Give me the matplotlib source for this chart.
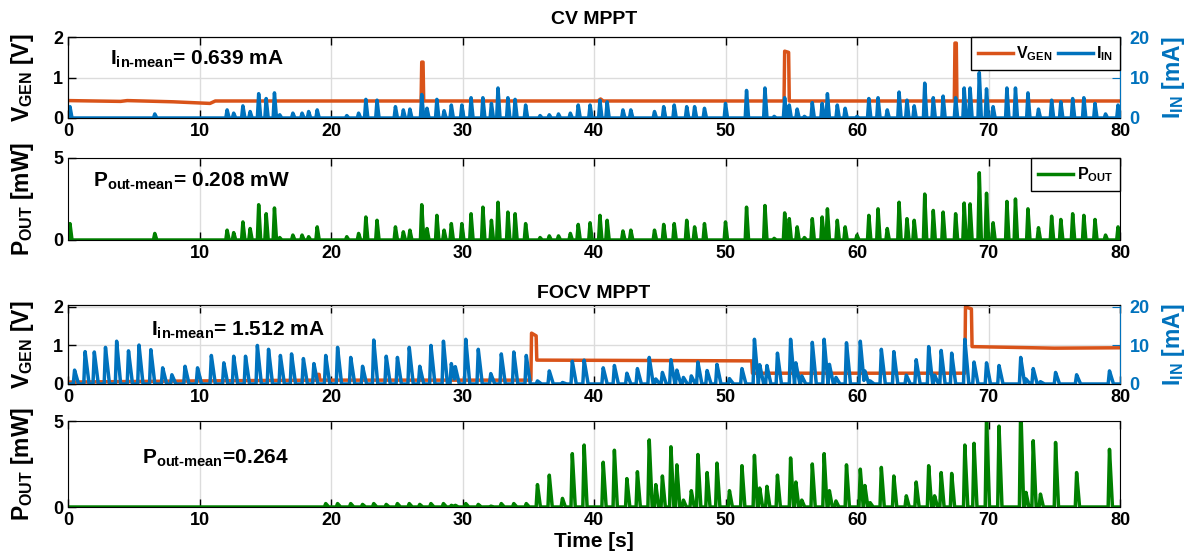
import numpy as np
import matplotlib
matplotlib.use('Agg')
import matplotlib.pyplot as plt
from matplotlib.lines import Line2D

plt.rcParams['font.family'] = ['Liberation Sans', 'DejaVu Sans']
plt.rcParams['font.weight'] = 'bold'
plt.rcParams['axes.labelweight'] = 'bold'
plt.rcParams['axes.titleweight'] = 'bold'
plt.rcParams['mathtext.fontset'] = 'custom'
plt.rcParams['mathtext.rm'] = 'Liberation Sans:bold'
plt.rcParams['mathtext.bf'] = 'Liberation Sans:bold'
plt.rcParams['mathtext.it'] = 'Liberation Sans:bold'
plt.rcParams['mathtext.default'] = 'rm'

ORANGE = '#D95319'
BLUE = '#0072BD'
GREEN = '#008000'

# ---- CV MPPT ----
# spike times [s], input current peaks [mA], output power peaks [mW]
cv_t = [0.15, 6.6, 12.1, 12.6, 13.3, 13.85, 14.5, 15.07, 15.7, 16.1, 17.1, 17.8, 18.3, 18.95,
        21.2, 22.1, 22.65, 23.5, 24.9, 25.5, 26.0, 26.9, 27.3, 28.05, 28.6, 29.15, 29.95,
        30.65, 31.55, 32.2, 32.7, 33.45, 34.0, 34.8, 35.9, 36.6, 37.3, 38.2, 38.8, 39.7,
        40.45, 41.0, 42.2, 42.8, 44.6, 45.3, 46.1, 47.05, 47.65, 48.4, 50.0, 51.6, 53.0,
        53.7, 54.5, 54.85, 55.45, 56.0, 56.6, 57.35, 57.75, 58.5, 59.1, 60.0, 60.9, 61.6,
        62.3, 63.2, 63.8, 64.35, 65.15, 65.8, 66.55, 67.5, 68.15, 68.6, 69.3, 69.85, 70.35,
        71.4, 72.05, 73.0, 73.8, 74.8, 75.5, 76.4, 77.25, 78.1, 78.9, 79.85]
cv_iin = [2.8, 1.0, 2.0, 1.2, 3.0, 1.6, 6.0, 4.8, 6.2, 0.8, 1.2, 1.2, 1.6, 2.0,
          0.6, 1.2, 4.6, 4.4, 2.8, 2.0, 2.2, 5.8, 2.4, 4.6, 1.8, 3.2, 3.2,
          5.0, 5.0, 3.6, 7.4, 5.0, 4.6, 3.2, 0.6, 0.8, 1.0, 1.2, 3.2, 3.2,
          4.4, 4.0, 2.0, 2.0, 1.6, 2.8, 3.2, 2.8, 2.8, 2.4, 3.6, 6.8, 7.4,
          0.4, 5.0, 3.2, 2.2, 0.4, 3.8, 3.6, 6.0, 3.2, 2.4, 0.4, 4.8, 5.0,
          2.0, 6.4, 4.4, 3.0, 8.6, 5.0, 5.4, 5.0, 7.4, 7.4, 11.2, 7.2, 2.8,
          7.4, 7.4, 6.2, 2.2, 4.4, 4.0, 4.8, 5.0, 3.6, 1.0, 3.2]
cv_pout = [1.0, 0.4, 0.6, 0.45, 1.1, 0.7, 2.15, 1.6, 1.95, 0.15, 0.3, 0.3, 0.2, 0.8,
           0.2, 0.4, 1.4, 1.2, 0.8, 0.5, 0.6, 2.15, 0.7, 1.5, 0.6, 1.0, 1.0,
           1.6, 2.0, 1.2, 2.3, 1.7, 1.6, 1.0, 0.15, 0.25, 0.25, 0.4, 0.95, 1.05,
           1.5, 1.2, 0.55, 0.6, 0.6, 0.95, 1.0, 1.2, 0.8, 1.0, 1.1, 2.0, 2.1,
           0.1, 1.65, 1.3, 0.8, 0.15, 1.3, 1.4, 1.9, 1.2, 0.8, 0.3, 1.5, 1.9,
           0.7, 2.3, 1.3, 1.2, 2.8, 1.8, 1.7, 1.6, 2.25, 2.2, 4.1, 2.85, 1.05,
           2.35, 2.5, 1.9, 0.75, 1.45, 1.25, 1.6, 1.5, 1.25, 0.3, 0.8]
# generator voltage breakpoints [s], [V]
cv_vgen_t = [0, 4, 4.5, 8, 10.8, 11.2, 26.85, 26.9, 27.0, 27.05, 40.3, 40.5, 40.7,
             54.45, 54.5, 54.8, 54.85, 67.4, 67.45, 67.55, 67.6, 80]
cv_vgen_v = [0.43, 0.41, 0.43, 0.40, 0.36, 0.42, 0.42, 1.38, 1.38, 0.42, 0.42, 0.47, 0.42,
             0.42, 1.65, 1.62, 0.42, 0.42, 1.85, 1.85, 0.42, 0.42]

# ---- FOCV MPPT ----
focv_t = [0.5, 1.3, 2.0, 2.85, 3.7, 4.6, 5.4, 6.3, 7.2, 7.9, 8.9, 9.85, 10.9, 11.85, 12.6,
          13.5, 14.4, 15.25, 16.15, 17.0, 17.9, 18.7, 19.6, 20.5, 21.5, 22.4, 23.25, 24.2,
          25.05, 25.95, 26.75, 27.6, 28.55, 29.15, 29.45, 30.25, 31.2, 32.15, 32.95, 33.9,
          34.85, 35.7, 36.6, 37.6, 38.35, 39.25, 40.7, 41.55, 42.5, 43.3, 44.2, 44.7, 45.2,
          45.85, 46.3, 46.8, 47.4, 47.9, 48.6, 49.35, 50.3, 51.25, 52.2, 52.6, 53.15, 53.95,
          54.95, 55.35, 55.8, 56.6, 57.5, 57.9, 58.4, 59.2, 60.25, 60.6, 61.0, 61.85, 62.8,
          63.75, 64.5, 65.45, 65.9, 66.4, 67.2, 68.2, 68.9, 69.85, 70.8, 72.45, 72.85, 73.4,
          73.95, 75.1, 76.7, 79.2]
focv_iin = [3.6, 8.4, 8.3, 9.5, 11.1, 8.6, 10.1, 8.9, 4.2, 2.4, 4.6, 4.2, 7.4, 5.5, 7.2,
            7.2, 10.0, 9.0, 7.4, 7.8, 6.6, 5.3, 7.4, 9.5, 6.9, 4.6, 11.4, 7.2,
            6.9, 9.5, 4.6, 10.0, 11.1, 5.3, 4.5, 11.6, 9.0, 2.7, 7.8, 8.3,
            7.4, 0.8, 3.4, 0.4, 5.9, 6.2, 4.2, 4.8, 2.8, 4.0, 6.9, 1.3, 3.0,
            6.3, 3.6, 1.7, 2.1, 5.7, 3.5, 5.1, 1.4, 4.0, 11.6, 5.0, 4.8, 8.0,
            11.6, 5.5, 2.1, 10.8, 11.6, 5.1, 1.7, 10.7, 11.1, 3.4, 0.8, 9.0, 8.4,
            2.3, 6.3, 9.7, 2.3, 8.7, 8.0, 11.6, 5.7, 5.5, 4.8, 6.9, 1.3, 4.0,
            0.6, 3.0, 2.4, 3.4]
focv_pout = [0, 0, 0, 0, 0, 0, 0, 0, 0, 0, 0, 0, 0, 0, 0,
             0, 0, 0, 0, 0, 0, 0, 0.2, 0.2, 0.2, 0.15, 0.2, 0.15,
             0.2, 0.2, 0.15, 0.2, 0.2, 0.1, 0.1, 0.2, 0.15, 0.05, 0.2, 0.2,
             0.2, 1.3, 1.85, 0.5, 3.1, 3.6, 2.6, 3.3, 1.65, 2.05, 3.9, 1.3, 1.8,
             3.5, 2.45, 0.4, 0.95, 3.05, 2.0, 2.55, 0.95, 2.4, 3.0, 1.1, 1.2, 1.85,
             2.85, 1.45, 0.4, 2.5, 3.1, 0.95, 0.35, 2.45, 2.2, 1.25, 0.25, 2.3, 1.8,
             0.65, 1.45, 2.4, 0.65, 2.0, 1.95, 3.6, 3.7, 5.3, 4.7, 6.0, 0.85, 3.85,
             0.75, 3.75, 2.0, 3.35]
focv_vgen_t = [0, 10, 18.95, 19.0, 19.1, 19.15, 35.2, 35.25, 35.6, 35.65, 52.0, 52.05,
               68.2, 68.25, 68.7, 68.75, 75, 80]
focv_vgen_v = [0.05, 0.08, 0.10, 0.25, 0.25, 0.10, 0.10, 1.32, 1.25, 0.62, 0.60, 0.28,
               0.28, 2.0, 1.95, 0.97, 0.93, 0.94]


def pulses(t, times, heights, rise, fall):
    y = np.zeros_like(t)
    for tc, h in zip(times, heights):
        y = np.maximum(y, np.interp(t, [tc - rise, tc, tc + fall], [0, h, 0]))
    return y


t = np.linspace(0, 80, 16001)

fig = plt.figure(figsize=(11.93, 5.56), dpi=100)
W, H = 1193, 556


def box(top, bottom, left=68, right=1120):
    return [left / W, 1 - bottom / H, (right - left) / W, (bottom - top) / H]


def style(ax):
    ax.set_xlim(0, 80)
    ax.tick_params(direction='in', top=True, labelsize=13, length=6, width=1)
    ax.grid(True, color='#dcdcdc', linewidth=1)
    ax.set_axisbelow(True)


def vi_panel(box_, vt, vv, times, iin, rise, fall, ytop, title, tpad):
    ax = fig.add_axes(box_)
    ax.plot(vt, vv, color=ORANGE, lw=2.5)
    ax.set_ylim(0, ytop)
    ax.set_yticks([0, 1, 2])
    ax.set_xticks(range(0, 81, 10))
    style(ax)
    ax.set_ylabel(r'V$_{GEN}$ [V]', fontsize=16.5, labelpad=12)
    ax.set_title(title, fontsize=14, pad=tpad)
    ax2 = ax.twinx()
    ax2.plot(t, pulses(t, times, iin, rise, fall), color=BLUE, lw=2.5)
    ax2.set_ylim(0, ytop * 10)
    ax2.set_yticks([0, 10, 20])
    ax2.tick_params(direction='in', labelsize=13, colors=BLUE, length=6, pad=7)
    ax2.spines['right'].set_color(BLUE)
    ax2.set_ylabel(r'I$_{IN}$ [mA]', fontsize=16.5, color=BLUE, labelpad=7)
    ax2.set_xlim(0, 80)
    return ax, ax2


def p_panel(box_, times, pout, rise, fall):
    ax = fig.add_axes(box_)
    ax.plot(t, pulses(t, times, pout, rise, fall), color=GREEN, lw=2.5)
    ax.set_ylim(0, 5)
    ax.set_yticks([0, 5])
    style(ax)
    ax.set_ylabel(r'P$_{OUT}$ [mW]', fontsize=16.5, labelpad=12)
    return ax


leg_kw = dict(loc='upper right', fontsize=11.5, frameon=True, fancybox=False,
              edgecolor='black', framealpha=1, borderaxespad=0, handlelength=2.2,
              handletextpad=0.2, borderpad=0.45)

# CV voltage / current
ax1, ax1r = vi_panel(box(37, 118), cv_vgen_t, cv_vgen_v, cv_t, cv_iin, 0.1, 0.15,
                     2, 'CV MPPT', 9)
ax1.text(3.2, 1.45, r'I$_{\text{in-mean}}$= 0.639 mA', fontsize=15, va='center')
h = [Line2D([], [], color=ORANGE, lw=2.5), Line2D([], [], color=BLUE, lw=2.5)]
ax1r.legend(h, [r'V$_{GEN}$', r'I$_{IN}$'], ncol=2, columnspacing=0.3, **leg_kw)

# CV power
ax2 = p_panel(box(158, 240), cv_t, cv_pout, 0.1, 0.15)
ax2.set_xticks(range(10, 81, 10))
ax2.text(1.9, 3.6, r'P$_{\text{out-mean}}$= 0.208 mW', fontsize=15, va='center')
ax2.legend([Line2D([], [], color=GREEN, lw=2.5)], [r'P$_{OUT}$'], **leg_kw)

# FOCV voltage / current
ax3, ax3r = vi_panel(box(305, 384), focv_vgen_t, focv_vgen_v, focv_t, focv_iin, 0.1, 0.3,
                     2.05, 'FOCV MPPT', 5)
ax3.text(6.3, 1.38, r'I$_{\text{in-mean}}$= 1.512 mA', fontsize=15, va='center')

# FOCV power
ax4 = p_panel(box(421, 507), focv_t, focv_pout, 0.1, 0.22)
ax4.set_xticks(range(0, 81, 10))
ax4.text(5.6, 2.8, r'P$_{\text{out-mean}}$=0.264', fontsize=15, va='center')
ax4.set_xlabel('Time [s]', fontsize=15, labelpad=2)

fig.savefig('out.png', dpi=100)
